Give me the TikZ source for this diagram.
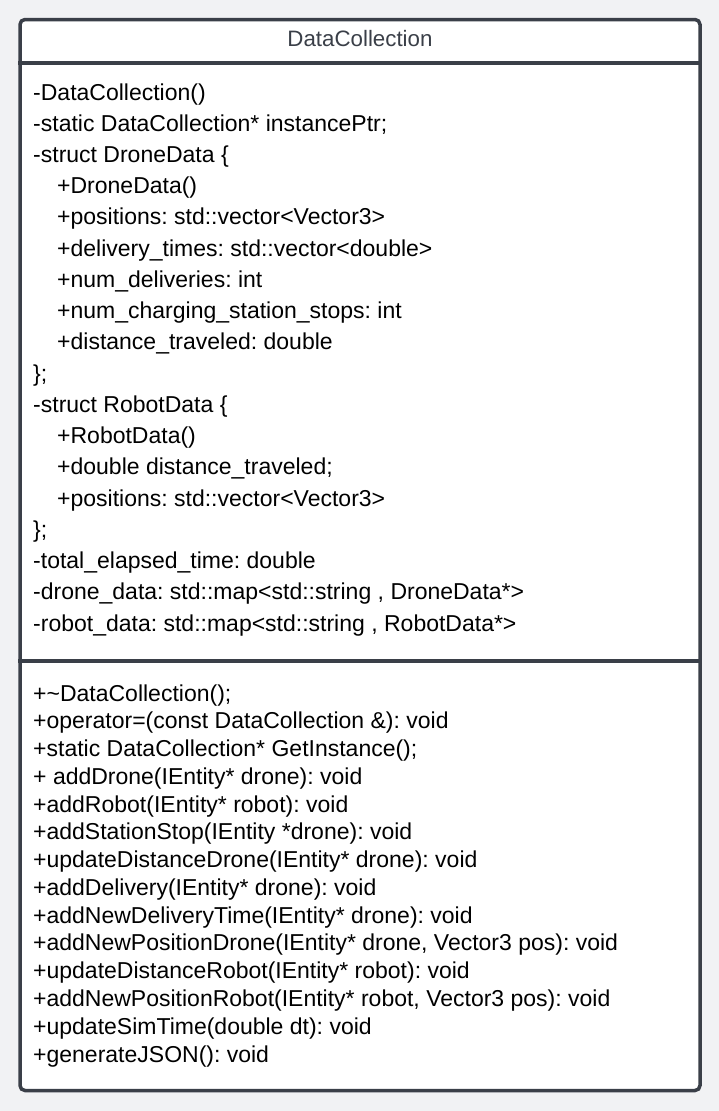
\documentclass[tikz,border=0pt]{standalone}
\usepackage{fontspec}
\setmainfont{Liberation Sans}
\frenchspacing
\definecolor{bgcol}{RGB}{241,242,244}
\definecolor{framecol}{RGB}{58,63,72}
\begin{document}
\begin{tikzpicture}[x=1pt,y=-1pt,
  umlframe/.style={draw=framecol,line width=3.5pt,fill=white,rounded corners=5pt,
    minimum width=680pt,minimum height=1071pt,inner sep=0pt},
  sepline/.style={draw=framecol,line width=3.5pt},
  title/.style={text=framecol,font=\fontsize{22.3}{26}\selectfont\frenchspacing,inner sep=0pt,anchor=base},
  member/.style={text=black,font=\fontsize{23}{27}\selectfont\frenchspacing,inner sep=0pt,anchor=base west}]
  \useasboundingbox[fill=bgcol] (0,0) rectangle (719,1111);
  % class frame
  \node[umlframe] (cls) at (360,555) {};
  \coordinate (s1) at (0,63);
  \coordinate (s2) at (0,661);
  \draw[sepline] (cls.west |- s1) -- (cls.east |- s1);
  \draw[sepline] (cls.west |- s2) -- (cls.east |- s2);
  \node[title] (name) at (360,46.3) {DataCollection};
  % attributes
  \def\ay#1{100+#1*31.24}
  \node[member] (a0)  at (33,{\ay{0}})  {-DataCollection()};
  \node[member] (a1)  at (33,{\ay{1}})  {-static DataCollection* instancePtr;};
  \node[member] (a2)  at (33,{\ay{2}})  {-struct DroneData \{};
  \node[member] (a3)  at (57,{\ay{3}})  {+DroneData()};
  \node[member] (a4)  at (57,{\ay{4}})  {+positions: std::vector<Vector3>};
  \node[member] (a5)  at (57,{\ay{5}})  {+delivery\_times: std::vector<double>};
  \node[member] (a6)  at (57,{\ay{6}})  {+num\_deliveries: int};
  \node[member] (a7)  at (57,{\ay{7}})  {+num\_charging\_station\_stops: int};
  \node[member] (a8)  at (57,{\ay{8}})  {+distance\_traveled: double};
  \node[member] (a9)  at (33,{\ay{9}})  {\};};
  \node[member] (a10) at (33,{\ay{10}}) {-struct RobotData \{};
  \node[member] (a11) at (57,{\ay{11}}) {+RobotData()};
  \node[member] (a12) at (57,{\ay{12}}) {+double distance\_traveled;};
  \node[member] (a13) at (57,{\ay{13}}) {+positions: std::vector<Vector3>};
  \node[member] (a14) at (33,{\ay{14}}) {\};};
  \node[member] (a15) at (33,{\ay{15}}) {-total\_elapsed\_time: double};
  \node[member] (a16) at (33,{\ay{16}}) {-drone\_data: std::map<std::string , DroneData*>};
  \node[member] (a17) at (33,{\ay{17}}) {-robot\_data: std::map<std::string , RobotData*>};
  % operations
  \def\my#1{701+#1*27.77}
  \node[member] (m0)  at (33,{\my{0}})  {+\textasciitilde DataCollection();};
  \node[member] (m1)  at (33,{\my{1}})  {+operator=(const DataCollection \&): void};
  \node[member] (m2)  at (33,{\my{2}})  {+static DataCollection* GetInstance();};
  \node[member] (m3)  at (33,{\my{3}})  {+ addDrone(IEntity* drone): void};
  \node[member] (m4)  at (33,{\my{4}})  {+addRobot(IEntity* robot): void};
  \node[member] (m5)  at (33,{\my{5}})  {+addStationStop(IEntity *drone): void};
  \node[member] (m6)  at (33,{\my{6}})  {+updateDistanceDrone(IEntity* drone): void};
  \node[member] (m7)  at (33,{\my{7}})  {+addDelivery(IEntity* drone): void};
  \node[member] (m8)  at (33,{\my{8}})  {+addNewDeliveryTime(IEntity* drone): void};
  \node[member] (m9)  at (33,{\my{9}})  {+addNewPositionDrone(IEntity* drone, Vector3 pos): void};
  \node[member] (m10) at (33,{\my{10}}) {+updateDistanceRobot(IEntity* robot): void};
  \node[member] (m11) at (33,{\my{11}}) {+addNewPositionRobot(IEntity* robot, Vector3 pos): void};
  \node[member] (m12) at (33,{\my{12}}) {+updateSimTime(double dt): void};
  \node[member] (m13) at (33,{\my{13}}) {+generateJSON(): void};
\end{tikzpicture}
\end{document}
